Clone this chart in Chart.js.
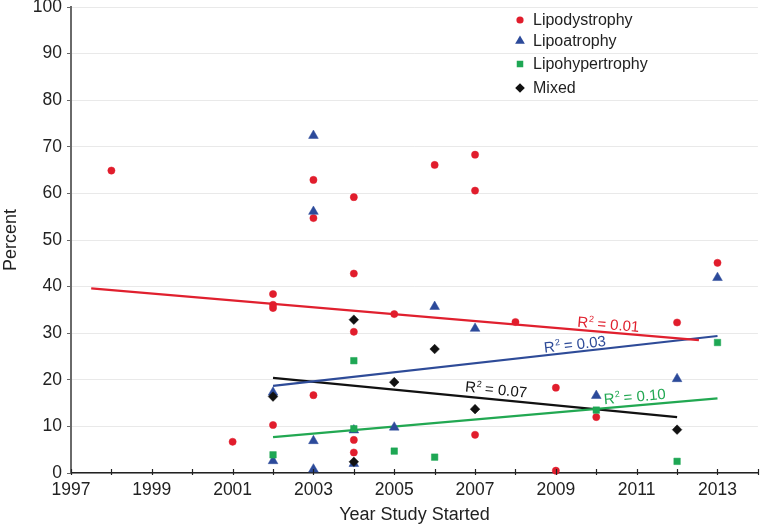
<!DOCTYPE html>
<html>
<head>
<meta charset="utf-8">
<script src="https://cdn.jsdelivr.net/npm/chart.js@4.4.1/dist/chart.umd.min.js"></script>
<style>
html,body{margin:0;padding:0;background:#fff;}
canvas{display:block;}
</style>
</head>
<body>
<canvas id="c" width="764" height="528"></canvas>
<script>
// ---- tick labels ----
const yearTickLabels = ['1997','1999','2001','2003','2005','2007','2009','2011','2013'];
const percentTickLabels = ['0','10','20','30','40','50','60','70','80','90','100'];

// ---- series (year, percent) ----
const seriesNames = ['Lipodystrophy','Lipoatrophy','Lipohypertrophy','Mixed'];

const lipodystrophyYears  = [1998, 2001, 2002, 2002, 2002, 2002, 2003, 2003, 2003, 2004, 2004, 2004, 2004, 2004, 2005, 2006, 2007, 2007, 2007, 2008, 2009, 2009, 2010, 2012, 2013];
const lipodystrophyValues = [64.9, 6.7, 38.4, 36.1, 35.4, 10.3, 62.9, 54.7, 16.7, 59.2, 42.8, 30.3, 7.1, 4.4, 34.1, 66.1, 68.3, 60.6, 8.2, 32.4, 18.3, 0.5, 12.0, 32.3, 45.1];

const lipoatrophyYears  = [2002, 2002, 2003, 2003, 2003, 2003, 2004, 2004, 2005, 2006, 2007, 2010, 2012, 2013];
const lipoatrophyValues = [17.3, 2.6, 72.4, 56.1, 6.9, 0.8, 9.2, 2.0, 9.8, 35.7, 31.0, 16.6, 20.2, 41.9];

const lipohypertrophyYears  = [2002, 2004, 2004, 2005, 2006, 2010, 2012, 2013];
const lipohypertrophyValues = [3.9, 24.1, 9.5, 4.7, 3.4, 13.5, 2.5, 28.0];

const mixedYears  = [2002, 2004, 2004, 2005, 2006, 2007, 2012];
const mixedValues = [16.4, 32.9, 2.4, 19.5, 26.6, 13.7, 9.3];

// ---- trend lines (end points) and R² ----
const lipodystrophyTrendYears  = [1997.5, 2012.54];
const lipodystrophyTrendValues = [39.6, 28.5];
const lipoatrophyTrendYears  = [2002, 2013];
const lipoatrophyTrendValues = [18.7, 29.4];
const lipohypertrophyTrendYears  = [2002, 2013];
const lipohypertrophyTrendValues = [7.7, 16.0];
const mixedTrendYears  = [2002, 2012];
const mixedTrendValues = [20.4, 12.0];
const rSquared = ['0.01', '0.03', '0.10', '0.07'];

// ---- styles ----
const colors = ['#e11d2c', '#2c4a9a', '#1ea754', '#111111'];
const lineColors = ['#e0202e', '#2e4b98', '#22a852', '#111111'];
const pointStyles = ['circle', 'triangle', 'rect', 'rectRot'];
const pointRadii = [3.6, 5.6, 4.6, 4.8];
const drawOrder = [4, 3, 2, 1];
// label anchor (data coords) for R² text
const labelAnchors = [[2010.3, 31.9], [2009.47, 27.6], [2010.95, 16.4], [2007.52, 17.9]];

const FONT = '"Liberation Sans", Arial, Helvetica, sans-serif';

function pts(xs, ys){ return xs.map((x, i) => ({x: x, y: ys[i]})); }

const seriesYears = [lipodystrophyYears, lipoatrophyYears, lipohypertrophyYears, mixedYears];
const seriesValues = [lipodystrophyValues, lipoatrophyValues, lipohypertrophyValues, mixedValues];
const trendYears = [lipodystrophyTrendYears, lipoatrophyTrendYears, lipohypertrophyTrendYears, mixedTrendYears];
const trendValues = [lipodystrophyTrendValues, lipoatrophyTrendValues, lipohypertrophyTrendValues, mixedTrendValues];

const datasets = [];
seriesNames.forEach((name, i) => {
  datasets.push({
    label: name,
    isSeries: true,
    data: pts(seriesYears[i], seriesValues[i]),
    pointStyle: pointStyles[i],
    pointRadius: pointRadii[i],
    pointBackgroundColor: colors[i],
    pointBorderColor: colors[i],
    pointBorderWidth: 0.5,
    showLine: false,
    order: drawOrder[i],
    clip: false
  });
});
seriesNames.forEach((name, i) => {
  datasets.push({
    label: name + ' trend',
    isTrend: true,
    r2: rSquared[i],
    anchor: labelAnchors[i],
    data: pts(trendYears[i], trendValues[i]),
    showLine: true,
    borderColor: lineColors[i],
    borderWidth: 2.2,
    pointRadius: 0,
    order: 10 + i
  });
});

const xTickMarks = {
  id: 'xTickMarks',
  afterDraw(chart) {
    const s = chart.scales.x, ctx = chart.ctx;
    ctx.save();
    ctx.strokeStyle = '#222';
    ctx.lineWidth = 1.2;
    s.ticks.forEach(t => {
      const px = Math.round(s.getPixelForValue(t.value)) + 0.5;
      ctx.beginPath();
      ctx.moveTo(px, s.top - 4);
      ctx.lineTo(px, s.top + 2);
      ctx.stroke();
    });
    ctx.restore();
  }
};

const r2Labels = {
  id: 'r2Labels',
  afterDatasetsDraw(chart) {
    const xs = chart.scales.x, ys = chart.scales.y, ctx = chart.ctx;
    chart.data.datasets.filter(d => d.isTrend).forEach(d => {
      const p1 = d.data[0], p2 = d.data[d.data.length - 1];
      const x1 = xs.getPixelForValue(p1.x), y1 = ys.getPixelForValue(p1.y);
      const x2 = xs.getPixelForValue(p2.x), y2 = ys.getPixelForValue(p2.y);
      const ang = Math.atan2(y2 - y1, x2 - x1);
      const lx = xs.getPixelForValue(d.anchor[0]), ly = ys.getPixelForValue(d.anchor[1]);
      const big = '15px ' + FONT, small = '9px ' + FONT;
      const rest = ' = ' + d.r2;
      ctx.save();
      ctx.translate(lx, ly);
      ctx.rotate(ang);
      ctx.fillStyle = d.borderColor;
      ctx.textAlign = 'left';
      ctx.textBaseline = 'alphabetic';
      ctx.font = big;
      const wR = ctx.measureText('R').width;
      const wRest = ctx.measureText(rest).width;
      ctx.font = small;
      const w2 = ctx.measureText('2').width;
      let x = -(wR + w2 + wRest) / 2;
      const base = 5;
      ctx.font = big;
      ctx.fillText('R', x, base);
      x += wR;
      ctx.font = small;
      ctx.fillText('2', x + 0.5, base - 6);
      x += w2;
      ctx.font = big;
      ctx.fillText(rest, x, base);
      ctx.restore();
    });
  }
};

const customLegend = {
  id: 'customLegend',
  afterDraw(chart) {
    const ctx = chart.ctx;
    const rows = [20, 41, 64, 88];
    const markerX = 520, textX = 533;
    chart.data.datasets.filter(d => d.isSeries).forEach((d, i) => {
      ctx.save();
      ctx.fillStyle = d.pointBackgroundColor;
      ctx.strokeStyle = d.pointBorderColor;
      Chart.helpers.drawPoint(ctx, {pointStyle: d.pointStyle, radius: d.pointRadius, borderWidth: 0, rotation: 0}, markerX, rows[i]);
      ctx.fillStyle = '#222';
      ctx.font = '16px ' + FONT;
      ctx.textAlign = 'left';
      ctx.textBaseline = 'middle';
      ctx.fillText(d.label, textX, rows[i] + 1);
      ctx.restore();
    });
  }
};

new Chart(document.getElementById('c'), {
  type: 'scatter',
  data: { datasets: datasets },
  plugins: [xTickMarks, r2Labels, customLegend],
  options: {
    responsive: false,
    animation: false,
    devicePixelRatio: 1,
    layout: { padding: { top: 7, right: 2, bottom: 0, left: 0 } },
    plugins: { legend: { display: false }, tooltip: { enabled: false } },
    scales: {
      x: {
        type: 'linear',
        min: 1997,
        max: 2014,
        ticks: {
          stepSize: 1,
          autoSkip: false,
          maxRotation: 0,
          minRotation: 0,
          padding: 7,
          color: '#222',
          font: { family: FONT, size: 17.5 },
          callback: (v) => yearTickLabels.includes(String(v)) ? String(v) : ''
        },
        grid: { display: true, drawOnChartArea: false, drawTicks: false },
        border: { color: '#222', width: 1.5 },
        title: { display: true, text: 'Year Study Started', color: '#222', font: { family: FONT, size: 18 }, padding: { top: 0, bottom: 2 } },
        afterFit(s) { s.height = 55; s.paddingLeft = 0; s.paddingRight = 0; }
      },
      y: {
        min: 0,
        max: 100,
        ticks: {
          stepSize: 10,
          padding: 5,
          color: '#222',
          font: { family: FONT, size: 17.5 },
          callback: (v) => percentTickLabels[Math.round(v / 10)]
        },
        grid: { color: '#e9e9e9', lineWidth: 1, tickColor: '#666', tickLength: 4, drawTicks: true },
        border: { color: '#6a6a6a', width: 2 },
        title: { display: true, text: 'Percent', color: '#222', font: { family: FONT, size: 18 }, padding: { top: 0, bottom: 0 } },
        afterFit(s) { s.width = 71; s.paddingTop = 0; s.paddingBottom = 0; }
      }
    }
  }
});
</script>
</body>
</html>
